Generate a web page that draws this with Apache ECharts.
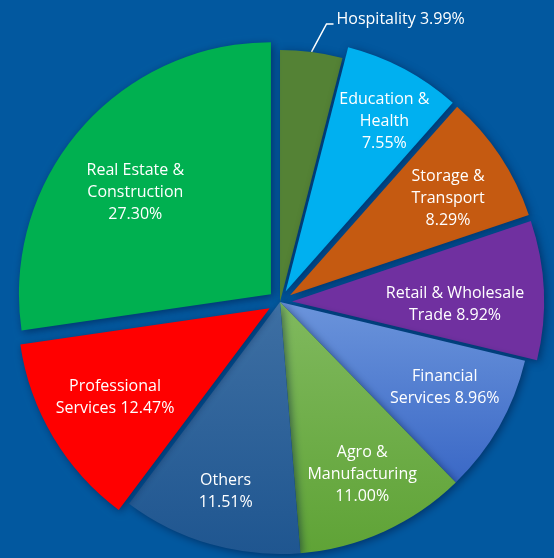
<!DOCTYPE html>
<html>
<head>
<meta charset="UTF-8" />
<title>Sector pie</title>
<style>
  html, body { margin: 0; padding: 0; background: #02589f; }
  #chart { width: 554px; height: 558px; }
</style>
</head>
<body>
<div id="chart"></div>
<script src="https://cdn.jsdelivr.net/npm/echarts@6/dist/echarts.min.js"></script>
<script>
// data, clockwise from 12 o'clock
var sectors = ['Hospitality', 'Education & Health', 'Storage & Transport', 'Retail & Wholesale Trade',
               'Financial Services', 'Agro & Manufacturing', 'Others', 'Professional Services',
               'Real Estate & Construction'];
var shares = [3.99, 7.55, 8.29, 8.92, 8.96, 11.00, 11.51, 12.47, 27.30];
// how each label is broken in the picture
var labelTexts = ['Hospitality 3.99%', 'Education &\nHealth\n7.55%', 'Storage &\nTransport\n8.29%',
                  'Retail & Wholesale\nTrade 8.92%', 'Financial\nServices 8.96%',
                  'Agro &\nManufacturing\n11.00%', 'Others\n11.51%', 'Professional\nServices 12.47%',
                  'Real Estate &\nConstruction\n27.30%'];
var exploded = ['Education & Health', 'Storage & Transport', 'Retail & Wholesale Trade',
                'Professional Services', 'Real Estate & Construction'];

var colors = [
    '#548235', '#00b0f0', '#c55a11', '#7030a0',
    {type: 'linear', x: 0, y: 0, x2: 0, y2: 1, colorStops: [{offset: 0, color: '#6b94db'}, {offset: 1, color: '#3a68c6'}]},
    {type: 'linear', x: 0, y: 0, x2: 0, y2: 1, colorStops: [{offset: 0, color: '#80b95e'}, {offset: 1, color: '#5fa336'}]},
    {type: 'linear', x: 0, y: 0, x2: 0, y2: 1, colorStops: [{offset: 0, color: '#3e6fa3'}, {offset: 1, color: '#1f5690'}]},
    '#ff0000', '#00b050'
];

var cx = 280, cy = 302, R = 252, explodeBy = 12;
// label placement: distance from centre and small turn (degrees) off the slice middle
var labelDist = [0, 197, 186, 163, 185, 190, 196, 178, 170];
var labelTurn = [0, 2, 1.6, 3, -2.6, -1.2, 0, 1, -3.5];

var font = '"Open Sans", sans-serif';

var total = shares.reduce(function (a, b) { return a + b; }, 0);
var midAngle = [];
shares.reduce(function (acc, v) {
    midAngle.push((acc + v / 2) / total * 360);
    return acc + v;
}, 0);

// the slices themselves (exploded ones are "selected")
var sliceData = sectors.map(function (name, i) {
    return {
        name: name,
        value: shares[i],
        selected: exploded.indexOf(name) !== -1,
        itemStyle: {color: colors[i]}
    };
});

// same values again, transparent, only to carry the labels
var labelData = sectors.map(function (name, i) {
    var item = {name: name, value: shares[i]};
    if (i === 0) {
        item.label = {position: 'outside', align: 'left'};
        item.labelLine = {show: true, length: 28, length2: 10, lineStyle: {color: '#ffffff', width: 1.5}};
    }
    return item;
});

var myChart = echarts.init(document.getElementById('chart'));
var option = {
    backgroundColor: '#02589f',
    animation: false,
    series: [{
        type: 'pie',
        center: [cx, cy],
        radius: [0, R],
        startAngle: 90,
        clockwise: true,
        selectedMode: 'multiple',
        selectedOffset: explodeBy,
        emphasis: {disabled: true},
        itemStyle: {
            borderWidth: 0,
            shadowBlur: 8,
            shadowOffsetX: 2,
            shadowOffsetY: 2,
            shadowColor: 'rgba(0, 20, 60, 0.55)'
        },
        label: {show: false},
        labelLine: {show: false},
        data: sliceData
    }, {
        type: 'pie',
        center: [cx, cy],
        radius: [0, R],
        startAngle: 90,
        clockwise: true,
        silent: true,
        avoidLabelOverlap: false,
        emphasis: {disabled: true},
        itemStyle: {color: 'rgba(0,0,0,0)', borderWidth: 0},
        label: {
            show: true,
            position: 'inside',
            color: '#ffffff',
            fontFamily: font,
            fontSize: 16,
            lineHeight: 22,
            align: 'center',
            formatter: function (p) { return labelTexts[p.dataIndex]; }
        },
        labelLine: {show: false},
        labelLayout: function (p) {
            var i = p.dataIndex;
            var a = (midAngle[i] + labelTurn[i]) * Math.PI / 180;
            if (i === 0) {
                // outside label: leader from the rim, slanting up, then a short flat tail
                var ex = cx + R * Math.sin(a), ey = cy - R * Math.cos(a);
                var tx = ex + 25, ty = ey - 33;
                return {
                    x: tx, y: ty,
                    align: 'left',
                    verticalAlign: 'middle',
                    labelLinePoints: [[ex, ey], [tx - 10, ty + 5], [tx - 3, ty + 5]]
                };
            }
            var d = labelDist[i] + (exploded.indexOf(sectors[i]) !== -1 ? explodeBy : 0);
            return {
                x: cx + d * Math.sin(a),
                y: cy - d * Math.cos(a) + 1,
                align: 'center',
                verticalAlign: 'middle'
            };
        },
        data: labelData
    }]
};
myChart.setOption(option);
</script>
</body>
</html>
